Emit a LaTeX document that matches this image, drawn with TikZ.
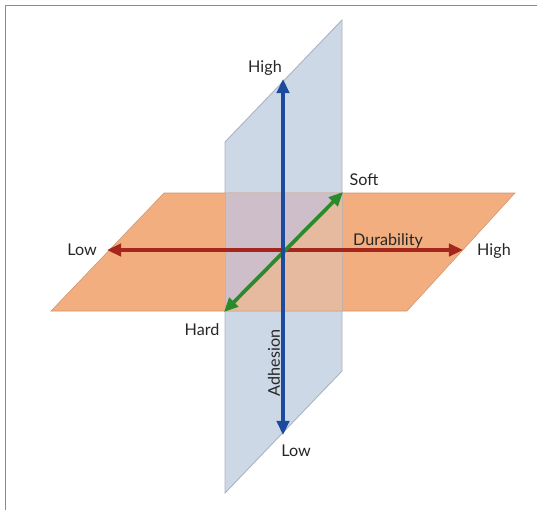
\documentclass[tikz,border=0pt]{standalone}
\usepackage{fontspec}
\setmainfont{Lato}
\usetikzlibrary{arrows.meta,positioning}
\definecolor{PlaneBlue}{HTML}{CDD8E7}
\definecolor{PlaneEdge}{HTML}{A9B2C0}
\definecolor{PlaneOrange}{HTML}{F2AE7F}
\definecolor{AxisBlue}{HTML}{1C4A9C}
\definecolor{AxisRed}{HTML}{A5261C}
\definecolor{AxisGreen}{HTML}{2A8A2C}
\definecolor{FrameGray}{HTML}{8C8C8C}
\begin{document}
\begin{tikzpicture}[x=0.02cm,y=-0.02cm,
  axis/.style={line width=2.1pt,{Triangle[length=8pt,width=7pt]}-{Triangle[length=8pt,width=7pt]}},
  lbl/.style={font=\fontsize{9.2}{11}\selectfont,text=black!85,inner sep=1pt}]
\useasboundingbox (0,0) rectangle (537,510);
\draw[FrameGray,line width=1pt] (5.5,510) -- (5.5,5.5) -- (537,5.5);
% vertical plane
\coordinate (v1) at (225,142); \coordinate (v2) at (342,20);
\coordinate (v3) at (342,371); \coordinate (v4) at (225,493);
\filldraw[fill=PlaneBlue,draw=PlaneEdge,line width=0.5pt] (v1) -- (v2) -- (v3) -- (v4) -- cycle;
% horizontal plane
\coordinate (h1) at (164,193); \coordinate (h2) at (515,193);
\coordinate (h3) at (407,311); \coordinate (h4) at (51,311);
\filldraw[fill=PlaneOrange,draw=PlaneOrange!85!black,line width=0.3pt] (h1) -- (h2) -- (h3) -- (h4) -- cycle;
\fill[PlaneBlue!90!violet,opacity=0.8] (225,193) -- (342,193) -- (225,311) -- cycle;
\fill[PlaneBlue,opacity=0.3] (342,193) -- (342,311) -- (225,311) -- cycle;
\draw[PlaneEdge,line width=0.4pt,opacity=0.6] (225,193) -- (225,311) (342,193) -- (342,311);
% axes
\coordinate (adhHi) at (283,79); \coordinate (adhLo) at (283,435);
\coordinate (durLo) at (107,250); \coordinate (durHi) at (463,250);
\coordinate (hard) at (224,312); \coordinate (soft) at (343,192);
\draw[axis,AxisRed] (durLo) -- (durHi);
\draw[axis,AxisGreen] (hard) -- (soft);
\draw[axis,AxisBlue] (adhLo) -- (adhHi);
% labels
\node[lbl] (tHigh) at (265,68) {High};
\node[lbl] (tSoft) at (364,180) {Soft};
\node[lbl] (tLow) at (82,250) {Low};
\node[lbl] (tHighR) at (494,251) {High};
\node[lbl] (tDur) at (388,241) {Durability};
\node[lbl] (tHard) at (202,330) {Hard};
\node[lbl,rotate=90] (tAdh) at (274,363) {Adhesion};
\node[lbl] (tLowB) at (296,451) {Low};
\end{tikzpicture}
\end{document}
